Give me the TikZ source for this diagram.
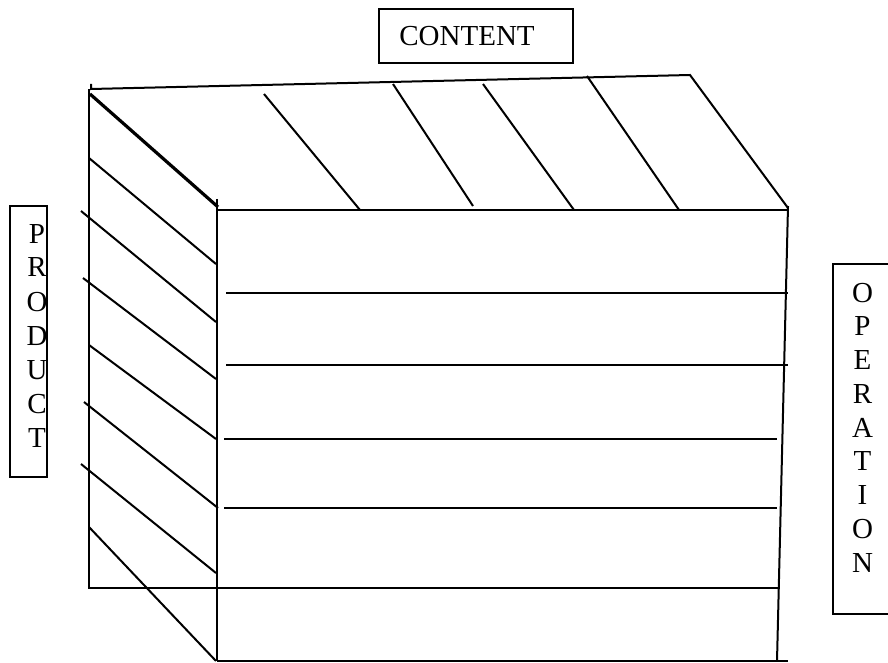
\documentclass[tikz,border=0pt]{standalone}
\usepackage{fontspec}
\setmainfont{Liberation Serif}
\begin{document}
\begin{tikzpicture}[x=0.5pt,y=-0.5pt,
  edge/.style={line width=1pt},
  thickedge/.style={line width=1.6pt},
  box/.style={draw, line width=1pt, inner sep=0pt},
  letter/.style={font=\fontsize{14.5pt}{17pt}\selectfont, inner sep=0pt, anchor=base}]
\useasboundingbox (0,0) rectangle (888,663);

% ---- label boxes ----
\node[box, minimum width=97pt, minimum height=27pt,
      font=\fontsize{14.5pt}{17pt}\selectfont] (content) at (476,36) {\hspace*{-9pt}CONTENT};
\node[box, minimum width=18.5pt, minimum height=135.5pt] (prodbox) at (28.5,341.5) {};
\foreach \c [count=\i] in {P,R,O,D,U,C,T}
  \node[letter] (prod\i) at (37,{243+34*(\i-1)}) {\c};
\draw[edge] (891,264) -- (833,264) -- (833,614) -- (891,614);
\foreach \c [count=\i] in {O,P,E,R,A,T,I,O,N}
  \node[letter] (oper\i) at (862.5,{302+33.75*(\i-1)}) {\c};

% ---- cube outline ----
\draw[edge] (91,84) -- (91,89) -- (690,75) -- (788,208);
\draw[edge] (89,89) -- (89,588);
\draw[edge] (88,588) -- (778,588);
\draw[edge] (217,210) -- (788,210);
\draw[edge] (217,199) -- (217,661);
\draw[edge] (217,661) -- (788,661);
\draw[edge] (788,206) -- (777,661);

% ---- front horizontals ----
\draw[edge] (226,293) -- (788,293);
\draw[edge] (226,365) -- (788,365);
\draw[edge] (224,439) -- (777,439);
\draw[edge] (224,508) -- (777,508);

% ---- left face diagonals ----
\draw[thickedge] (90,94) -- (218,207);
\draw[edge] (89,158) -- (216,264);
\draw[edge] (81,211) -- (216,322);
\draw[edge] (83,278) -- (216,379);
\draw[edge] (89,345) -- (216,439);
\draw[edge] (84,402) -- (218,508);
\draw[edge] (81,464) -- (216,573);
\draw[edge] (89,527) -- (216,661);

% ---- top face diagonals ----
\draw[edge] (264,94) -- (360,210);
\draw[edge] (393,84) -- (473,206);
\draw[edge] (483,84) -- (574,210);
\draw[edge] (587,76) -- (679,210);
\end{tikzpicture}
\end{document}
